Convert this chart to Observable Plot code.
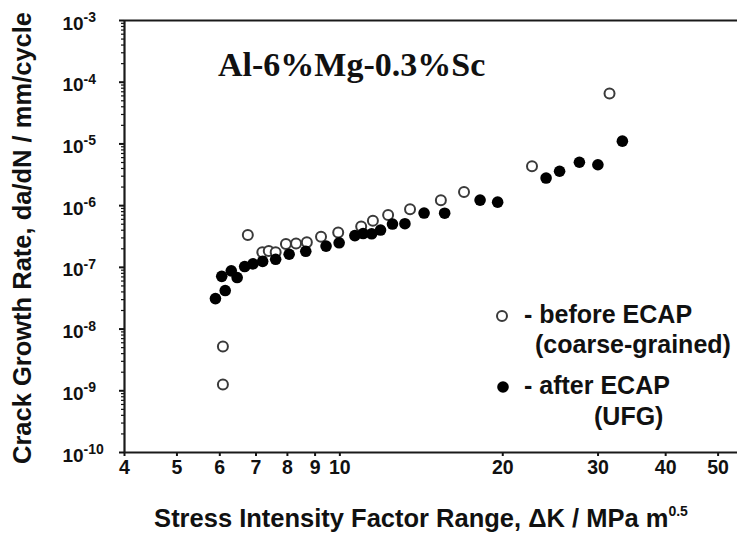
<!DOCTYPE html>
<html><head><meta charset="utf-8">
<script src="https://cdn.jsdelivr.net/npm/d3@7"></script>
<script src="https://cdn.jsdelivr.net/npm/@observablehq/plot@0.6"></script>
<style>
body{margin:0;background:#fff;}
#wrap{position:relative;width:737px;height:535px;font-family:"Liberation Sans",Arial,sans-serif;color:#111;overflow:hidden;}
#wrap svg{position:absolute;left:0;top:0;}
.abs{position:absolute;white-space:nowrap;}
#title{font-family:"Liberation Serif","Times New Roman",serif;font-weight:bold;font-size:34px;left:218px;top:46px;}
#xtitle{font-size:25.5px;font-weight:bold;left:421px;top:518px;transform:translate(-50%,-50%);}
#xtitle sup{font-size:14px;font-weight:bold;vertical-align:11px;}
#ytitle{font-size:25.5px;font-weight:bold;left:22px;top:238px;transform:translate(-50%,-50%) rotate(-90deg);}
.leg{font-size:25px;font-weight:bold;}
</style></head><body>
<div id="wrap"></div>
<script>
// before ECAP (coarse-grained): ΔK (MPa m^0.5), da/dN (mm/cycle)
const beforeK    = [6.08, 6.08, 6.76, 7.19, 7.39, 7.61, 7.95, 8.30, 8.69, 9.23, 9.93, 10.95, 11.51, 12.28, 13.48, 15.37, 16.96, 22.65, 31.5];
const beforeRate = [1.26e-9, 5.2e-9, 3.34e-7, 1.76e-7, 1.84e-7, 1.76e-7, 2.40e-7, 2.43e-7, 2.55e-7, 3.12e-7, 3.66e-7, 4.58e-7, 5.67e-7, 7.05e-7, 8.75e-7, 1.22e-6, 1.67e-6, 4.35e-6, 6.56e-5];
// after ECAP (UFG)
const afterK    = [5.89, 6.14, 6.05, 6.30, 6.46, 6.67, 6.91, 7.20, 7.61, 8.06, 8.65, 9.43, 9.97, 10.66, 11.04, 11.45, 11.89, 12.51, 13.19, 14.31, 15.62, 18.16, 19.57, 24.05, 25.47, 27.71, 29.98, 33.27];
const afterRate = [3.12e-8, 4.21e-8, 7.15e-8, 8.78e-8, 6.84e-8, 1.03e-7, 1.14e-7, 1.25e-7, 1.35e-7, 1.63e-7, 1.82e-7, 2.21e-7, 2.50e-7, 3.27e-7, 3.53e-7, 3.50e-7, 4.02e-7, 5.03e-7, 5.10e-7, 7.59e-7, 7.54e-7, 1.23e-6, 1.14e-6, 2.80e-6, 3.61e-6, 5.05e-6, 4.60e-6, 1.11e-5];

const xTicks = [4, 5, 6, 7, 8, 9, 10, 20, 30, 40, 50];
const yTicks = [1e-3, 1e-4, 1e-5, 1e-6, 1e-7, 1e-8, 1e-9, 1e-10];
const yExps  = ["-3", "-4", "-5", "-6", "-7", "-8", "-9", "-10"];

const before = beforeK.map((k, i) => ({k, r: beforeRate[i]}));
const after  = afterK.map((k, i) => ({k, r: afterRate[i]}));
const yMinor = d3.scaleLog().domain([1e-10, 1e-3]).ticks().filter(v => !yTicks.some(t => Math.abs(t - v) / t < 1e-6));

const font = "Liberation Sans, Arial, sans-serif";
const ink = "#111";
const chart = Plot.plot({
  width: 737, height: 535,
  marginLeft: 124, marginRight: 0, marginTop: 20, marginBottom: 83,
  style: {fontFamily: font, background: "transparent", color: ink},
  x: {type: "log", domain: [4, 54.3]},
  y: {type: "log", domain: [1e-10, 1e-3]},
  marks: [
    Plot.axisY(yMinor, {tickSize: 3, tickFormat: () => "", strokeWidth: 1.2, label: null}),
    Plot.axisY(yTicks, {tickSize: 5, tickFormat: () => "", strokeWidth: 2, label: null}),
    Plot.axisX(xTicks, {tickSize: 4, tickFormat: () => "", strokeWidth: 2, label: null}),
    // y tick labels: "10" with superscript exponent
    Plot.text(yTicks, {y: d => d, text: () => "10", frameAnchor: "left", textAnchor: "start",
      dx: -62, dy: 3, fontSize: 19, fontWeight: "bold", fill: ink}),
    Plot.text(yTicks, {y: d => d, text: (d, i) => yExps[i], frameAnchor: "left", textAnchor: "start",
      dx: -41, dy: -3, fontSize: 14, fontWeight: "bold", fill: ink}),
    // x tick labels
    Plot.text(xTicks, {x: d => d, text: d => String(d), frameAnchor: "bottom",
      dy: 21, fontSize: 19.5, fontWeight: "bold", fill: ink}),
    Plot.ruleX([4], {stroke: "#1a1a1a", strokeWidth: 2.2}),
    Plot.ruleY([1e-10], {stroke: "#1a1a1a", strokeWidth: 2.2}),
    Plot.ruleY([1e-3], {stroke: "#1a1a1a", strokeWidth: 2.2}),
    Plot.dot(before, {x: "k", y: "r", r: 5, stroke: "#3a3a3a", strokeWidth: 2, fill: "white"}),
    Plot.dot(after, {x: "k", y: "r", r: 5.8, fill: "#000", stroke: "none"})
  ]
});

const wrap = document.getElementById("wrap");
wrap.appendChild(chart);
wrap.insertAdjacentHTML("beforeend", `
  <div class="abs" id="title">Al-6%Mg-0.3%Sc</div>
  <div class="abs" id="xtitle">Stress Intensity Factor Range, ΔK / MPa m<sup>0.5</sup></div>
  <div class="abs" id="ytitle">Crack Growth Rate, da/dN / mm/cycle</div>
  <svg class="abs" style="left:494px;top:308px" width="18" height="18"><circle cx="8" cy="8" r="5" fill="white" stroke="#3a3a3a" stroke-width="2"/></svg>
  <svg class="abs" style="left:494px;top:379px" width="18" height="18"><circle cx="9" cy="8" r="5.8" fill="#000"/></svg>
  <div class="abs leg" style="left:524px;top:300px">- before ECAP</div>
  <div class="abs leg" style="left:535px;top:330px">(coarse-grained)</div>
  <div class="abs leg" style="left:524px;top:371px">- after ECAP</div>
  <div class="abs leg" style="left:594px;top:402px">(UFG)</div>
`);
</script>
</body></html>
